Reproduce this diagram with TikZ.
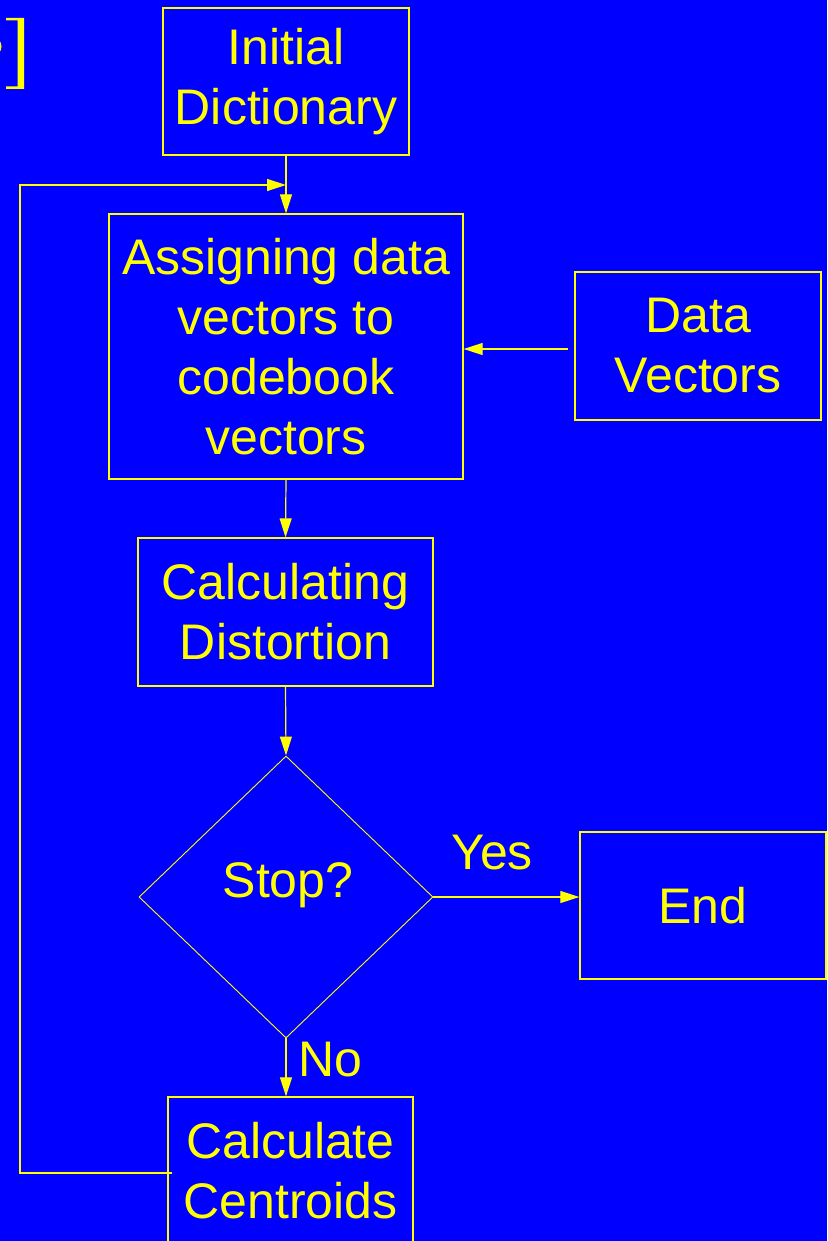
\documentclass[tikz,border=0pt]{standalone}
\usepackage{fontspec}
\setmainfont{Liberation Sans}
\usetikzlibrary{arrows.meta,shapes.geometric}
\definecolor{bg}{RGB}{0,0,255}
\definecolor{fg}{RGB}{255,255,0}
\tikzset{
  box/.style={draw=fg, line width=1.3pt, rectangle, inner sep=0pt, align=center,
    text=fg, font=\fontsize{50}{60}\selectfont},
  lbl/.style={text=fg, inner sep=0pt, font=\fontsize{50}{60}\selectfont},
  tip/.style={-{Triangle[length=19pt,width=12pt]}},
  flow/.style={draw=fg, line width=1.2pt, tip},
  plain/.style={draw=fg, line width=1.2pt},
}
\begin{document}
\begin{tikzpicture}[x=1pt,y=-1pt]
\fill[bg] (0,0) rectangle (827,1241);
\useasboundingbox (0,0) rectangle (827,1241);

% closing bracket of the title text at the left edge
\fill[fg] (6,18) -- (24,18) -- (24,89) -- (6,89) -- (6,86.5) -- (17.5,86.5) -- (17.5,20.5) -- (6,20.5) -- cycle;
\begin{scope}
\clip (0,0) rectangle (2,1241);
\draw[fg, line width=3pt] (-9,46.5) ellipse (9 and 8.5);
\end{scope}

% process boxes
\node[box, minimum width=246pt, minimum height=147pt] (init) at (286,81.5) {Initial\\Dictionary};
\node[box, minimum width=354pt, minimum height=265pt] (assign) at (286,346.5) {Assigning data\\vectors to\\codebook\\vectors};
\node[box, minimum width=246pt, minimum height=148pt] (data) at (698,346) {Data\\Vectors};
\node[box, minimum width=295pt, minimum height=148pt] (dist) at (285.5,612) {Calculating\\Distortion};
\node[draw=fg, line width=0.9pt, diamond, inner sep=0pt, minimum width=294pt, minimum height=282pt] (stop) at (286,897) {};
\node[lbl] (stoptext) at (288,885) {Stop?};
\node[box, minimum width=246pt, minimum height=147pt] (end) at (703,905.5) {End};
\node[box, minimum width=245pt, minimum height=147pt] (cent) at (290.5,1170.5) {Calculate\\Centroids};

% connectors
\coordinate (datafrom) at (568,349);
\draw[flow] (datafrom) -- (assign.east |- datafrom);
\draw[flow] (init.south) -- (assign.north);
\draw[flow] (assign.south) -- (dist.north);
\draw[flow] (dist.south) -- (stop.north);
\draw[flow] (stop.east) -- (end.west |- stop.east);
\draw[flow] (stop.south) -- (stop.south |- cent.north);

% feedback loop from the centroids back to the assignment step
\coordinate (loopout) at (172,1173);
\coordinate (loopin) at (286,185);
\draw[flow] (loopout) -- (20,1173) -- (20,185) -- (loopin);

% branch labels
\node[lbl] (yes) at (492,853) {Yes};
\node[lbl] (no) at (330,1060) {No};
\end{tikzpicture}
\end{document}
